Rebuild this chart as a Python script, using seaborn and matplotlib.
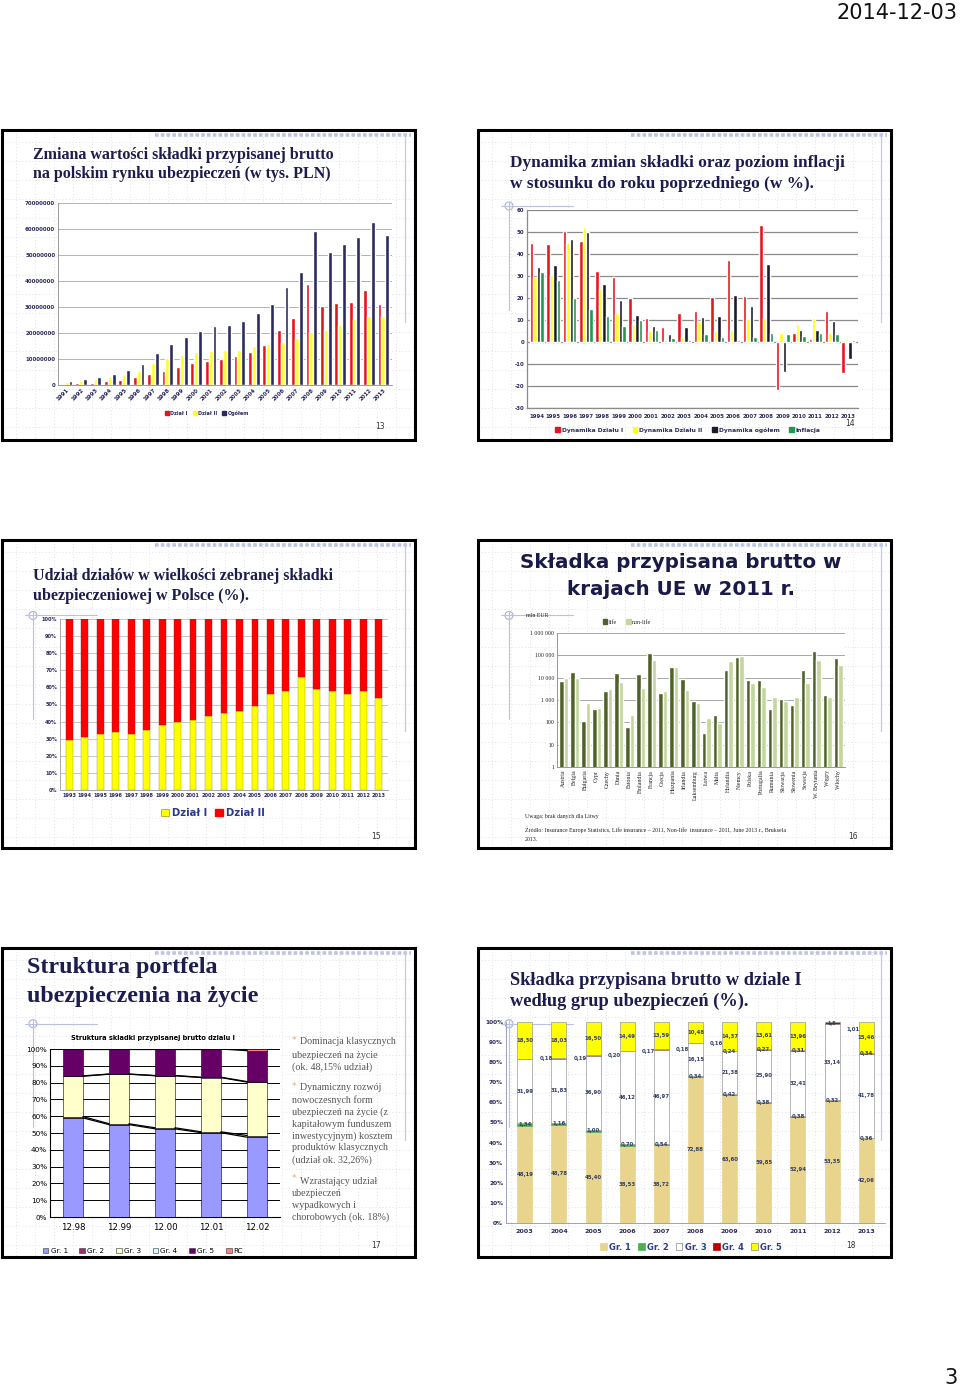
import numpy as np
import pandas as pd
import matplotlib.pyplot as plt
import seaborn as sns
from matplotlib.patches import Rectangle, Circle, Patch

sns.set_theme(style="white")
plt.rcParams["font.family"] = ["DejaVu Sans"]
plt.rcParams["axes.unicode_minus"] = False

W, H = 960, 1388
NAVY = "#1c1c4e"
TICK = "#2a2a5c"
SERIF = ["Liberation Serif", "DejaVu Serif"]

# ---- slide 13: premium value (thousand PLN)
years_13 = [str(y) for y in range(1991, 2014)]
dzial1_13 = [0.3e6, 0.6e6, 0.9e6, 1.4e6, 2.0e6, 2.9e6, 4.2e6, 5.5e6, 7.0e6, 8.4e6, 9.3e6, 10.0e6,
             11.2e6, 12.8e6, 15.5e6, 21.1e6, 25.6e6, 39.0e6, 30.4e6, 31.4e6, 32.0e6, 36.5e6, 31.3e6]
dzial2_13 = [1.2e6, 1.6e6, 2.3e6, 2.9e6, 3.7e6, 5.3e6, 8.3e6, 10.2e6, 11.7e6, 12.5e6, 13.0e6, 13.4e6,
             13.6e6, 14.9e6, 15.8e6, 16.4e6, 18.0e6, 20.2e6, 21.0e6, 22.9e6, 25.2e6, 26.4e6, 26.5e6]
ogolem_13 = [1.5e6, 2.2e6, 3.2e6, 4.2e6, 5.6e6, 8.2e6, 12.3e6, 15.8e6, 18.5e6, 20.8e6, 22.5e6, 23.1e6,
             24.8e6, 27.6e6, 31.0e6, 37.6e6, 43.6e6, 59.2e6, 51.3e6, 54.2e6, 57.1e6, 62.6e6, 57.8e6]
series_13 = ["Dział I", "Dział II", "Ogółem"]

# ---- slide 14: dynamics (%)
years_14 = [str(y) for y in range(1994, 2014)]
dyn1_14 = [45, 44.5, 50.5, 46, 32.5, 29.5, 20, 11, 7, 13, 14, 20.5, 37.5, 21, 53, -22, 4, 1.5, 14, -14]
dyn2_14 = [29.5, 30.5, 45, 52.5, 24, 13, 8, 5, 1, 2.5, 9.5, 5, 5.5, 10.5, 11, 4, 8, 11, 4, 1.5]
dyn_all_14 = [34, 35, 47, 50, 26.5, 19, 12.5, 7.5, 3.5, 7, 11.5, 12, 21.5, 16.5, 35.5, -13.5, 5.5, 5.5, 9.5, -7.5]
inflation_14 = [32, 28, 20, 15, 12, 7.3, 10.1, 5.5, 1.9, 0.8, 3.5, 2.1, 1.0, 2.5, 4.2, 3.5, 2.6, 4.3, 3.7, 0.9]
series_14 = ["Dynamika Działu I", "Dynamika Działu II", "Dynamika ogółem", "Inflacja"]

# ---- slide 15: shares (%)
years_15 = [str(y) for y in range(1993, 2014)]
dzial1_share = [29, 31, 33, 34, 33, 35, 38, 40, 41, 43, 45, 46, 49, 56, 58, 66, 59, 58, 56, 58, 54]
dzial2_share = [71, 69, 67, 66, 67, 65, 62, 60, 59, 57, 55, 54, 51, 44, 42, 34, 41, 42, 44, 42, 46]

# ---- slide 16: EU 2011 (mln EUR)
countries = ["Austria", "Belgia", "Bułgaria", "Cypr", "Czechy", "Dania", "Estonia", "Finlandia",
             "Francja", "Grecja", "Hiszpania", "Irlandia", "Luksemburg", "Łotwa", "Malta", "Holandia",
             "Niemcy", "Polska", "Portugalia", "Rumunia", "Słowacja", "Słowenia", "Szwecja",
             "W. Brytania", "Węgry", "Włochy"]
life_eu = [6800, 18000, 120, 380, 2600, 16000, 65, 14500, 125000, 2100, 29000, 8500, 900, 35, 210,
           22000, 88000, 7800, 7500, 400, 1100, 600, 23000, 150000, 1600, 75000]
nonlife_eu = [9500, 10000, 700, 450, 3200, 6200, 220, 3500, 62000, 2600, 29000, 2800, 750, 160, 90,
              55000, 95000, 6000, 4000, 1400, 900, 1400, 6000, 62000, 1300, 37000]
log_ticks = [1, 10, 100, 1000, 10000, 100000, 1000000]
log_labels = ["1", "10", "100", "1 000", "10 000", "100 000", "1 000 000"]

# ---- slide 17: life portfolio structure (%)
periods_17 = ["12.98", "12.99", "12.00", "12.01", "12.02"]
gr1_17 = [59.0, 55.0, 52.5, 50.2, 47.5]
gr2_17 = [0.8, 0.5, 0.6, 0.5, 1.0]
gr3_17 = [24.0, 29.5, 31.0, 32.3, 31.8]
gr4_17 = [0.2, 0.1, 0.1, 0.2, 0.3]
gr5_17 = [16.0, 14.9, 15.8, 16.8, 18.4]
rc_17 = [0.0, 0.0, 0.0, 0.0, 1.0]
names_17 = ["Gr. 1", "Gr. 2", "Gr. 3", "Gr. 4", "Gr. 5", "RC"]
bullets_17 = [
    ["Dominacja klasycznych", "ubezpieczeń na życie", "(ok. 48,15% udział)"],
    ["Dynamiczny rozwój", "nowoczesnych form", "ubezpieczeń na życie (z", "kapitałowym funduszem",
     "inwestycyjnym) kosztem", "produktów klasycznych", "(udział ok. 32,26%)"],
    ["Wzrastający udział", "ubezpieczeń", "wypadkowych i", "chorobowych (ok. 18%)"],
]

# ---- slide 18: life premium by group (%)
years_18 = [str(y) for y in range(2003, 2014)]
gr1_18 = [48.19, 48.78, 45.40, 38.53, 38.72, 72.88, 63.60, 59.85, 52.94, 53.35, 42.06]
gr2_18 = [1.34, 1.16, 1.00, 0.70, 0.54, 0.34, 0.42, 0.38, 0.38, 0.32, 0.36]
gr3_18 = [31.99, 31.83, 36.90, 46.12, 46.97, 16.15, 21.38, 25.90, 32.41, 33.14, 41.78]
gr4_18 = [0.18, 0.19, 0.20, 0.17, 0.18, 0.16, 0.24, 0.27, 0.31, 1.01, 0.34]
gr5_18 = [18.30, 18.03, 16.50, 14.49, 13.59, 10.48, 14.37, 13.61, 13.96, 0.0, 15.46]
names_18 = ["Gr. 1", "Gr. 2", "Gr. 3", "Gr. 4", "Gr. 5"]

slides = [(2, 130, 415, 440), (478, 130, 891, 440),
          (2, 540, 415, 848), (478, 540, 891, 848),
          (2, 948, 415, 1257), (478, 948, 891, 1257)]

fig = plt.figure(figsize=(W / 100, H / 100), dpi=100)
bg = fig.add_axes([0, 0, 1, 1])
bg.set_xlim(0, W)
bg.set_ylim(H, 0)
bg.axis("off")


def add_ax(x0, y0, x1, y1):
    return fig.add_axes([x0 / W, 1 - y1 / H, (x1 - x0) / W, (y1 - y0) / H])


def fig_legend(handles, labels, x, y, size, color=TICK, weight="bold", family=None, **kw):
    prop = {"size": size, "weight": weight}
    if family:
        prop["family"] = family
    leg = fig.legend(handles, labels, loc="center", bbox_to_anchor=(x / W, 1 - y / H),
                     ncol=len(handles), frameon=False, prop=prop, labelcolor=color,
                     handlelength=0.8, handleheight=0.8, handletextpad=0.3, borderaxespad=0, **kw)
    return leg


def style_ticks(ax, size, color=TICK, weight="bold", family=None):
    ax.tick_params(length=0, labelsize=size, colors=color, pad=2)
    for lab in ax.get_xticklabels() + ax.get_yticklabels():
        lab.set_fontweight(weight)
        if family:
            lab.set_family(family)
    ax.set_xlabel("")
    ax.set_ylabel("")


# page header/footer
bg.text(958, 13, "2014-12-03", ha="right", va="center", fontsize=15, color="#111111")
bg.text(958, 1378, "3", ha="right", va="center", fontsize=15, color="#111111")

# slide frames and decoration
for k, (x0, y0, x1, y1) in enumerate(slides):
    w, h = x1 - x0, y1 - y0
    bg.vlines(np.arange(x0 + 14, x1, 19), y0, y1, colors="#d6d8e4", lw=0.6, linestyles=(0, (1, 3)))
    bg.hlines(np.arange(y0 + 12, y1, 19), x0, x1, colors="#d6d8e4", lw=0.6, linestyles=(0, (1, 3)))
    bg.plot([x0 + 0.37 * w, x1 - 4], [y0 + 5, y0 + 5], color="#bcc6e2", lw=2.6, ls=(0, (1, 0.6)))
    bg.plot([x1 - 10, x1 - 10], [y0 + 4, y0 + 0.62 * h], color="#c3cbe4", lw=0.9)
    if k > 0:
        cx, cy = x0 + 0.075 * w, y0 + 0.245 * h
        bg.add_patch(Circle((cx, cy), 4, fill=False, ec="#a9b4d8", lw=0.8))
        bg.plot([x0 + 0.055 * w, x0 + 0.23 * w], [cy, cy], color="#b9c2e0", lw=0.8)
        bg.plot([cx, cx], [cy - 4, y0 + 0.58 * h], color="#b9c2e0", lw=0.8)
    bg.add_patch(Rectangle((x0, y0), w, h, fill=False, ec="black", lw=2.2, zorder=5))

# ================= slide 13
bg.text(33, 155, "Zmiana wartości składki przypisanej brutto", family=SERIF, weight="bold",
        fontsize=11.5, color=NAVY, va="center")
bg.text(33, 174, "na polskim rynku ubezpieczeń (w tys. PLN)", family=SERIF, weight="bold",
        fontsize=11.5, color=NAVY, va="center")
bg.text(375, 426, "13", fontsize=5.5, color="#333333", va="center")

ax1 = add_ax(58, 203, 392, 385)
df13 = pd.DataFrame({"rok": years_13 * 3,
                     "seria": [s for s in series_13 for _ in years_13],
                     "wartosc": dzial1_13 + dzial2_13 + ogolem_13})
pal13 = {"Dział I": "#e3141c", "Dział II": "#ffff1f", "Ogółem": "#2b2b62"}
sns.barplot(data=df13, x="rok", y="wartosc", hue="seria", hue_order=series_13, order=years_13,
            palette=pal13, width=0.8, saturation=1, errorbar=None, legend=False, ax=ax1)
ax1.set_ylim(0, 70e6)
ax1.set_xlim(-0.6, len(years_13) - 0.4)
ticks13 = np.arange(0, 70e6 + 1, 10e6)
ax1.set_yticks(ticks13)
ax1.set_yticklabels([f"{int(t)}" for t in ticks13])
ax1.yaxis.grid(True, color="#a6a6a6", lw=0.6)
ax1.set_axisbelow(True)
for s in ["top", "right"]:
    ax1.spines[s].set_visible(False)
for s in ["left", "bottom"]:
    ax1.spines[s].set_color("#8c8c8c")
    ax1.spines[s].set_linewidth(0.6)
style_ticks(ax1, 4.0)
plt.setp(ax1.get_xticklabels(), rotation=45, ha="right", rotation_mode="anchor")
fig_legend([Patch(color=pal13[s]) for s in series_13], series_13, 207, 413, 3.5,
           columnspacing=1.0)

# ================= slide 14
bg.text(510, 163, "Dynamika zmian składki oraz poziom inflacji", family=SERIF, weight="bold",
        fontsize=12.4, color=NAVY, va="center")
bg.text(510, 184, "w stosunku do roku poprzedniego (w %).", family=SERIF, weight="bold",
        fontsize=12.4, color=NAVY, va="center")
bg.text(845, 423, "14", fontsize=5.5, color="#333333", va="center")

ax2 = add_ax(527, 210, 858, 408)
df14 = pd.DataFrame({"rok": years_14 * 4,
                     "seria": [s for s in series_14 for _ in years_14],
                     "wartosc": dyn1_14 + dyn2_14 + dyn_all_14 + inflation_14})
pal14 = {"Dynamika Działu I": "#e5161d", "Dynamika Działu II": "#ffff10",
         "Dynamika ogółem": "#1b1b2e", "Inflacja": "#1d9a4f"}
sns.barplot(data=df14, x="rok", y="wartosc", hue="seria", hue_order=series_14, order=years_14,
            palette=pal14, width=0.84, saturation=1, errorbar=None, legend=False, ax=ax2)
ax2.set_ylim(-30, 60)
ax2.set_xlim(-0.6, len(years_14) - 0.4)
ax2.set_yticks(np.arange(-30, 61, 10))
ax2.yaxis.grid(True, color="#8a8a8a", lw=0.9)
ax2.set_axisbelow(True)
for s in ["top", "right"]:
    ax2.spines[s].set_visible(False)
for s in ["left", "bottom"]:
    ax2.spines[s].set_color("#8a8a8a")
    ax2.spines[s].set_linewidth(0.9)
style_ticks(ax2, 3.9)
ax2.tick_params(axis="x", pad=4)
fig_legend([Patch(color=pal14[s]) for s in series_14], series_14, 688, 430, 4.3,
           columnspacing=1.6)

# ================= slide 15
bg.text(33, 576, "Udział działów w wielkości zebranej składki", family=SERIF, weight="bold",
        fontsize=11.5, color=NAVY, va="center")
bg.text(33, 596, "ubezpieczeniowej w Polsce (%).", family=SERIF, weight="bold",
        fontsize=11.5, color=NAVY, va="center")
bg.text(371, 836, "15", fontsize=5.5, color="#333333", va="center")

ax3 = add_ax(60, 619, 388, 790)
x15 = np.arange(len(years_15))
ax3.bar(x15, dzial1_share, width=0.44, color="#ffff00", edgecolor="#9c9c30", lw=0.3)
ax3.bar(x15, dzial2_share, bottom=dzial1_share, width=0.44, color="#ff0000",
        edgecolor="#a02020", lw=0.3)
ax3.set_xticks(x15)
ax3.set_xticklabels(years_15)
ax3.set_xlim(-0.6, len(years_15) - 0.4)
ax3.set_ylim(0, 100)
ax3.set_yticks(np.arange(0, 101, 10))
ax3.set_yticklabels([f"{t}%" for t in range(0, 101, 10)])
ax3.yaxis.grid(True, color="#bdbdbd", lw=0.6)
ax3.set_axisbelow(True)
for s in ["top", "right"]:
    ax3.spines[s].set_visible(False)
for s in ["left", "bottom"]:
    ax3.spines[s].set_color("#9a9a9a")
    ax3.spines[s].set_linewidth(0.6)
style_ticks(ax3, 3.6)
fig_legend([Patch(fc="#ffff00", ec="#808000", lw=0.4), Patch(color="#ff0000")],
           ["Dział I", "Dział II"], 213, 813, 7.2, color="#2a3a8a", columnspacing=0.8)

# ================= slide 16
bg.text(681, 562, "Składka przypisana brutto w", weight="bold", fontsize=14.3, color="#1a1a48",
        ha="center", va="center")
bg.text(681, 589, "krajach UE w 2011 r.", weight="bold", fontsize=14.3, color="#1a1a48",
        ha="center", va="center")
bg.text(848, 836, "16", fontsize=5.5, color="#333333", va="center")

ax4 = add_ax(557, 633, 845, 767)
df16 = pd.DataFrame({"kraj": countries * 2,
                     "seria": ["life"] * len(countries) + ["non-life"] * len(countries),
                     "wartosc": life_eu + nonlife_eu})
pal16 = {"life": "#4f6228", "non-life": "#c3d69b"}
ax4.set_yscale("log")
sns.barplot(data=df16, x="kraj", y="wartosc", hue="seria", hue_order=["life", "non-life"],
            order=countries, palette=pal16, width=0.76, saturation=1, errorbar=None,
            legend=False, ax=ax4)
ax4.set_ylim(1, 1e6)
ax4.set_xlim(-0.6, len(countries) - 0.4)
ax4.set_yticks(log_ticks)
ax4.set_yticklabels(log_labels)
ax4.minorticks_off()
ax4.yaxis.grid(True, color="#9a9a9a", lw=0.6)
ax4.set_axisbelow(True)
for s in ["top", "right"]:
    ax4.spines[s].set_visible(False)
for s in ["left", "bottom"]:
    ax4.spines[s].set_color("#888888")
    ax4.spines[s].set_linewidth(0.6)
style_ticks(ax4, 4.2, color="#222222", weight="normal", family=SERIF)
plt.setp(ax4.get_xticklabels(), rotation=90)
bg.text(526, 615, "mln EUR", family=SERIF, fontsize=4.2, color="#222222", va="center")
fig_legend([Patch(color=pal16["life"]), Patch(color=pal16["non-life"])], ["life", "non-life"],
           627, 622, 4.2, color="#222222", weight="normal", family=SERIF, columnspacing=1.5)
bg.text(525, 816, "Uwaga: brak danych dla Litwy", family=SERIF, fontsize=4.2, color="#222222",
        va="center")
bg.text(525, 830, "Źródło: Insurance Europe Statistics, Life insurance – 2011, Non-life  insurance"
        " – 2011, June 2013 r., Bruksela", family=SERIF, fontsize=4.2, color="#222222", va="center")
bg.text(525, 839, "2013.", family=SERIF, fontsize=4.2, color="#222222", va="center")

# ================= slide 17
bg.text(27, 967, "Struktura portfela", family=SERIF, weight="bold", fontsize=17.3, color=NAVY,
        va="center")
bg.text(27, 996, "ubezpieczenia na życie", family=SERIF, weight="bold", fontsize=17.3, color=NAVY,
        va="center")
bg.text(371, 1245, "17", fontsize=5.5, color="#333333", va="center")
bg.text(153, 1038, "Struktura skladki przypisanej brutto dzialu I", weight="bold", fontsize=4.8,
        color="black", ha="center", va="center")

ax5 = add_ax(50, 1049, 280, 1217)
ax5.set_facecolor("white")
x17 = np.arange(len(periods_17))
cols17 = ["#9999ff", "#993366", "#ffffcc", "#ccffff", "#660066", "#ff8080"]
bw17 = 0.43
bottom = np.zeros(len(periods_17))
levels = []
for vals, col in zip([gr1_17, gr2_17, gr3_17, gr4_17, gr5_17, rc_17], cols17):
    ax5.bar(x17, vals, bottom=bottom, width=bw17, color=col, edgecolor="black", lw=0.4, zorder=3)
    bottom = bottom + np.array(vals)
    levels.append(bottom.copy())
for lev in levels[:-1]:
    for i in range(len(periods_17) - 1):
        ax5.plot([x17[i] + bw17 / 2, x17[i + 1] - bw17 / 2], [lev[i], lev[i + 1]],
                 color="black", lw=0.9, zorder=4)
ax5.set_xticks(x17)
ax5.set_xticklabels(periods_17)
ax5.set_xlim(-0.5, len(periods_17) - 0.5)
ax5.set_ylim(0, 100)
ax5.set_yticks(np.arange(0, 101, 10))
ax5.set_yticklabels([f"{t}%" for t in range(0, 101, 10)])
ax5.yaxis.grid(True, color="black", lw=0.7)
ax5.set_axisbelow(True)
for s in ["top", "right"]:
    ax5.spines[s].set_visible(False)
for s in ["left", "bottom"]:
    ax5.spines[s].set_color("black")
    ax5.spines[s].set_linewidth(0.8)
style_ticks(ax5, 5.2, color="black", weight="normal")
ax5.tick_params(axis="x", labelsize=6.2, pad=4)
fig_legend([Patch(fc=c, ec="#333333", lw=0.4) for c in cols17], names_17, 143, 1251, 5.2,
           color="black", weight="normal", columnspacing=1.6)

line_y = [[1042, 1055, 1067], [1088, 1100, 1112, 1124, 1136, 1148, 1160], [1181, 1193, 1205, 1217]]
for lines, ys in zip(bullets_17, line_y):
    bg.text(292, ys[0] - 2, "*", fontsize=6.5, color="#e0a878", va="center")
    for j, (txt, yy) in enumerate(zip(lines, ys)):
        bg.text(300 if j == 0 else 292, yy, txt, family=SERIF, fontsize=7.2, color="#555555",
                va="center")

# ================= slide 18
bg.text(510, 980, "Składka przypisana brutto w dziale I", family=SERIF, weight="bold",
        fontsize=13.2, color=NAVY, va="center")
bg.text(510, 1001, "według grup ubezpieczeń (%).", family=SERIF, weight="bold",
        fontsize=13.2, color=NAVY, va="center")
bg.text(846, 1245, "18", fontsize=5.5, color="#333333", va="center")

ax6 = add_ax(506, 1022, 885, 1223)
x18 = np.arange(len(years_18))
raw18 = np.array([gr1_18, gr2_18, gr3_18, gr4_18, gr5_18])
share18 = raw18 / raw18.sum(axis=0) * 100
cols18 = ["#e8d48c", "#4caf50", "#ffffff", "#c00000", "#ffff00"]
bw18 = 0.44
bottom = np.zeros(len(years_18))
for gi, col in enumerate(cols18):
    ax6.bar(x18, share18[gi], bottom=bottom, width=bw18, color=col,
            edgecolor="#9a9a9a" if gi >= 2 else col, lw=0.5, zorder=3)
    for i in range(len(years_18)):
        if raw18[gi, i] <= 0:
            continue
        yc = bottom[i] + share18[gi, i] / 2
        xc = x18[i]
        if gi == 3 and (i <= 5 or i == 9):
            xc = x18[i] + 0.62
            yc = min(yc, 96.5)
        lab = f"{raw18[gi, i]:.2f}".replace(".", ",")
        ax6.text(xc, yc, lab, ha="center", va="center", fontsize=3.9, weight="bold",
                 color="#34406a", zorder=5)
    bottom = bottom + share18[gi]
ax6.text(x18[9], 99.4, "1,8", ha="center", va="center", fontsize=3.4, weight="bold",
         color="#34406a", zorder=6)
ax6.set_xticks(x18)
ax6.set_xticklabels(years_18)
ax6.set_xlim(-0.55, len(years_18) - 0.45)
ax6.set_ylim(0, 100)
ax6.set_yticks(np.arange(0, 101, 10))
ax6.set_yticklabels([f"{t}%" for t in range(0, 101, 10)])
ax6.patch.set_alpha(0)
for s in ["top", "right"]:
    ax6.spines[s].set_visible(False)
for s in ["left", "bottom"]:
    ax6.spines[s].set_color("#9aa3c4")
    ax6.spines[s].set_linewidth(0.7)
style_ticks(ax6, 4.2)
ax6.tick_params(axis="x", labelsize=4.6, pad=4)
fig_legend([Patch(fc=c, ec="#888888" if c in ("#ffffff", "#ffff00") else c, lw=0.5) for c in cols18],
           names_18, 691, 1247, 6.0, color="#2c3f8c", columnspacing=0.8)

fig.savefig("out.png", dpi=100, facecolor="white")
